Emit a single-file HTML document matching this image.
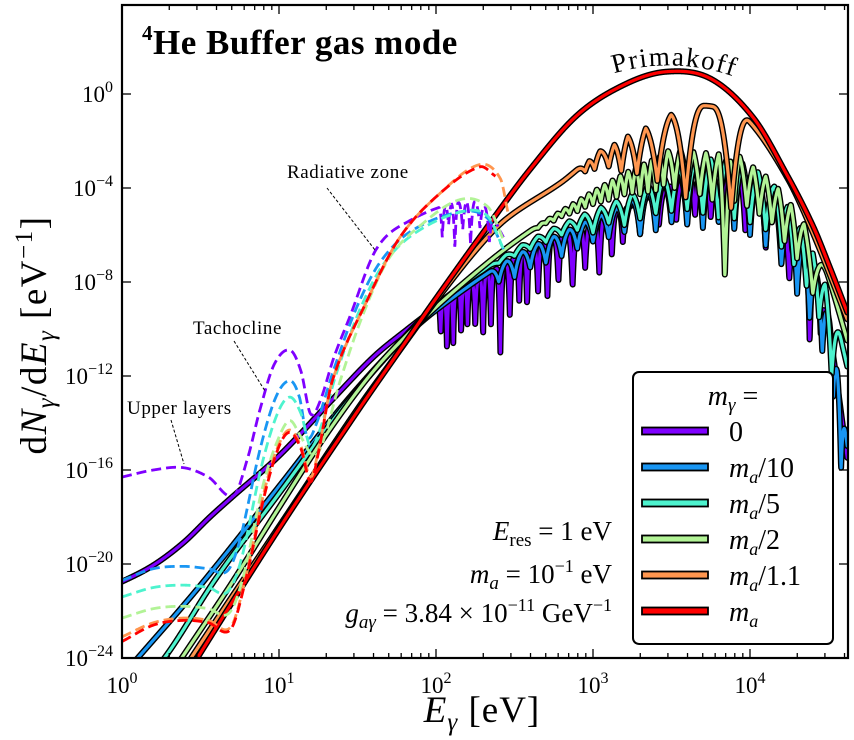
<!DOCTYPE html>
<html><head><meta charset="utf-8">
<style>
html,body{margin:0;padding:0;background:#fff;}
svg{display:block;font-family:"Liberation Serif","DejaVu Serif",serif;}
</style></head>
<body>
<svg id="chart" width="854" height="740" viewBox="0 0 854 740" xmlns="http://www.w3.org/2000/svg">
<defs><clipPath id="plotclip"><rect x="122" y="5" width="726" height="653"/></clipPath></defs>
<rect x="0" y="0" width="854" height="740" fill="#fff"/>
<g id="solid" clip-path="url(#plotclip)"></g>
<g id="dashed2" clip-path="url(#plotclip)"></g>
<g id="axes"></g>

<text x="142" y="54" font-size="35" font-weight="bold" letter-spacing="0.5"><tspan font-size="21" dy="-14">4</tspan><tspan dy="14">He Buffer gas mode</tspan></text>

<path id="primpath" d="M 590 82 Q 672 47 758 86" fill="none"/>
<text font-size="27" letter-spacing="1.5"><textPath href="#primpath" startOffset="50%" text-anchor="middle">Primakoff</textPath></text>

<text x="287" y="178" font-size="19" letter-spacing="0.6">Radiative zone</text>
<line x1="327" y1="188" x2="375" y2="250" stroke="#000" stroke-width="1" stroke-dasharray="3 2"/>
<text x="193" y="334" font-size="19" letter-spacing="0.6">Tachocline</text>
<line x1="234" y1="341" x2="265" y2="391" stroke="#000" stroke-width="1" stroke-dasharray="3 2"/>
<text x="127" y="414" font-size="19" letter-spacing="0.6">Upper layers</text>
<line x1="171" y1="420" x2="184" y2="464" stroke="#000" stroke-width="1" stroke-dasharray="3 2"/>

<g font-size="27" text-anchor="end">
<text x="612" y="540"><tspan font-style="italic">E</tspan><tspan font-size="19" dy="6">res</tspan><tspan dy="-6"> = 1 eV</tspan></text>
<text x="612" y="583"><tspan font-style="italic">m</tspan><tspan font-size="19" dy="6" font-style="italic">a</tspan><tspan dy="-6"> = 10</tspan><tspan font-size="18" dy="-11">−1</tspan><tspan dy="11"> eV</tspan></text>
<text x="612" y="622"><tspan font-style="italic">g</tspan><tspan font-size="19" dy="6" font-style="italic">aγ</tspan><tspan dy="-6"> = 3.84 × 10</tspan><tspan font-size="18" dy="-11">−11</tspan><tspan dy="11"> GeV</tspan><tspan font-size="18" dy="-11">−1</tspan></text>
</g>

<text transform="translate(46,335) rotate(-90)" text-anchor="middle" font-size="37" letter-spacing="1.5">d<tspan font-style="italic">N</tspan><tspan font-size="25" dy="8" font-style="italic">γ</tspan><tspan dy="-8">/d</tspan><tspan font-style="italic">E</tspan><tspan font-size="25" dy="8" font-style="italic">γ</tspan><tspan dy="-8"> [eV</tspan><tspan font-size="25" dy="-14">−1</tspan><tspan dy="14">]</tspan></text>
<text x="482" y="722" text-anchor="middle" font-size="37" letter-spacing="1"><tspan font-style="italic">E</tspan><tspan font-size="25" dy="8" font-style="italic">γ</tspan><tspan dy="-8"> [eV]</tspan></text>

<g id="legend">
<rect x="633" y="372" width="200" height="272" rx="6" fill="#fff" stroke="#000" stroke-width="2"/>
<text x="733" y="405" text-anchor="middle" font-size="28"><tspan font-style="italic">m</tspan><tspan font-size="19" dy="6" font-style="italic">γ</tspan><tspan dy="-6"> =</tspan></text>
</g>
</svg>
<script>
// ---- data (log10 E [eV], log10 dN/dE) ----
const seriesNames = ["0", "m_a/10", "m_a/5", "m_a/2", "m_a/1.1", "m_a"];
const seriesColors = ["#7f00ff", "#1996f3", "#4df3ce", "#b2f396", "#ff964f", "#ff0000"];
const purpleEnv = [[-0.1,-21.0],[0,-20.75],[0.2,-20.05],[0.39,-19.1],[0.56,-18.0],[0.71,-17.1],[1.0,-15.4],[1.34,-13.0],[1.6,-11.2],[1.8,-10.1],[2.0,-9.1],[2.5,-7.0],[2.9,-5.8],[3.2,-4.9],[3.5,-3.9],[3.7,-3.3],[3.9,-3.3],[4.05,-3.8],[4.2,-4.9],[4.35,-6.8],[4.5,-10],[4.62,-15.5]];
const purpleDips = [[2.03,-10.2],[2.07,-10.9],[2.11,-10.6],[2.16,-10.2],[2.2,-9.8],[2.25,-9.9],[2.3,-10.3],[2.35,-9.8],[2.41,-11.0],[2.47,-9.4],[2.53,-8.8],[2.58,-9.0],[2.65,-8.4],[2.71,-8.6],[2.78,-8.0],[2.87,-8.2],[2.95,-7.4],[3.04,-7.6],[3.12,-6.9],[3.19,-6.3],[3.3,-6.0],[3.42,-5.6],[3.53,-5.4],[3.65,-5.2],[3.75,-5.3],[3.85,-5.6],[3.97,-5.8],[4.1,-6.6],[4.25,-7.9],[4.38,-10.6],[4.45,-10.2]];
const blueEnv = [[-0.1,-25.5],[0.1,-24],[0.5,-20.9],[1.0,-16.7],[1.4,-13.3],[1.75,-10.7],[2.0,-9.2],[2.5,-6.9],[2.9,-5.6],[3.2,-4.7],[3.5,-3.6],[3.7,-3.0],[3.9,-3.0],[4.05,-3.5],[4.2,-4.6],[4.35,-6.5],[4.5,-9.5],[4.62,-15]];
const blueDips = [[2.4,-8.0],[2.5,-7.8],[2.6,-7.4],[2.7,-7.2],[2.8,-6.9],[2.9,-6.6],[3.0,-6.3],[3.1,-6.1],[3.2,-5.9],[3.3,-6.0],[3.4,-5.8],[3.5,-5.5],[3.6,-5.6],[3.7,-5.7],[3.8,-5.5],[3.9,-5.8],[4.0,-6.0],[4.1,-6.5],[4.2,-7.3],[4.3,-8.5],[4.38,-9.6],[4.46,-11],[4.53,-13],[4.58,-16]];
const tealEnv = [[0.0,-26],[0.27,-24],[0.6,-20.6],[1.0,-17.0],[1.4,-13.4],[1.75,-10.7],[2.0,-9.0],[2.5,-6.6],[2.9,-5.2],[3.2,-4.3],[3.5,-3.2],[3.7,-2.6],[3.9,-2.6],[4.05,-3.1],[4.2,-4.2],[4.35,-5.9],[4.5,-8.3],[4.62,-11.6]];
const tealDips = [[2.3,-7.5],[2.4,-7.2],[2.5,-6.9],[2.6,-6.6],[2.7,-6.3],[2.8,-6.0],[2.9,-5.8],[3.0,-5.9],[3.1,-5.5],[3.2,-5.6],[3.3,-5.3],[3.4,-5.1],[3.5,-5.0],[3.6,-4.9],[3.7,-5.1],[3.8,-5.3],[3.9,-5.3],[4.0,-5.5],[4.1,-5.8],[4.2,-6.5],[4.28,-7.3],[4.36,-8.2],[4.44,-9.5],[4.52,-12]];
const greenEnv = [[0.1,-26.8],[0.38,-24],[0.7,-20.8],[1.0,-17.6],[1.3,-14.5],[1.6,-11.8],[1.9,-9.7],[2.2,-7.9],[2.5,-6.3],[2.92,-4.4],[3.2,-3.2],[3.49,-2.2],[3.7,-2.1],[3.9,-2.3],[4.04,-2.8],[4.19,-3.7],[4.3,-4.7],[4.4,-6.0],[4.5,-7.8],[4.62,-10.5]];
const greenDips = [[2.3,-7.0],[2.35,-6.9],[2.4,-6.5],[2.45,-6.4],[2.5,-6.2],[2.55,-6.0],[2.6,-5.8],[2.65,-5.7],[2.7,-5.5],[2.75,-5.4],[2.8,-5.2],[2.85,-5.1],[2.9,-5.0],[2.95,-4.8],[3.0,-4.7],[3.05,-4.6],[3.1,-4.5],[3.15,-4.4],[3.2,-4.3],[3.25,-4.2],[3.3,-4.3],[3.35,-4.2],[3.4,-4.1],[3.45,-3.9],[3.52,-4.0],[3.6,-4.1],[3.68,-4.3],[3.76,-4.5],[3.84,-7.8],[3.9,-4.6],[3.98,-4.8],[4.06,-5.1],[4.14,-5.5],[4.22,-6.3],[4.3,-7.0],[4.4,-8.5]];
const orangeEnv = [[0.2,-26.5],[0.44,-24],[1.0,-18.4],[1.5,-13.4],[1.77,-10.9],[2.0,-8.8],[2.26,-6.6],[2.45,-5.3],[2.79,-3.8],[2.92,-3.1],[3.06,-2.3],[3.24,-1.5],[3.34,-1.2],[3.49,-0.8],[3.7,-0.5],[3.85,-0.7],[4.0,-1.2],[4.24,-3.6],[4.4,-5.9],[4.62,-9.6]];
const orangeDips = [[2.95,-3.3],[3.01,-3.2],[3.1,-3.1],[3.18,-3.3],[3.28,-3.4],[3.41,-3.7],[3.59,-4.4],[3.88,-4.9]];
const redEnv = [[0.3,-26],[0.48,-24],[1.0,-18.5],[1.5,-13.5],[1.77,-10.9],[2.0,-8.7],[2.3,-5.9],[2.6,-3.2],[2.9,-0.9],[3.2,0.4],[3.47,0.95],[3.75,0.65],[4.02,-1.0],[4.24,-3.5],[4.4,-5.6],[4.51,-7.4],[4.62,-9.3]];
const redDips = [];
const purpleDash = [[0,-16.3],[0.2,-16.0],[0.39,-15.9],[0.55,-16.3],[0.71,-17.1],[0.8,-15.5],[0.88,-13.4],[0.97,-11.5],[1.07,-10.9],[1.14,-11.8],[1.2,-13.6],[1.26,-13.1],[1.35,-11.2],[1.45,-9.5],[1.62,-6.6],[1.83,-5.4],[2.15,-4.6],[2.32,-4.8],[2.43,-6.1]];
const purpleDashDips = [[2.04,-6.1],[2.08,-5.6],[2.12,-6.6],[2.17,-5.8],[2.22,-6.4],[2.28,-5.7],[2.34,-6.3]];
const blueDash = [[0,-20.7],[0.2,-20.2],[0.39,-20.1],[0.55,-20.2],[0.67,-20.3],[0.75,-19.0],[0.88,-15.1],[0.98,-12.9],[1.07,-12.2],[1.13,-12.9],[1.18,-14.6],[1.24,-14.0],[1.35,-11.7],[1.5,-9.0],[1.65,-7.1],[1.85,-5.8],[2.17,-5.0],[2.33,-5.3],[2.43,-6.6]];
const tealDash = [[0,-21.4],[0.2,-21.0],[0.39,-20.9],[0.55,-21.0],[0.67,-21.2],[0.76,-19.8],[0.89,-15.8],[0.99,-13.6],[1.07,-12.9],[1.14,-13.6],[1.2,-15.0],[1.26,-14.3],[1.37,-11.8],[1.52,-9.1],[1.67,-7.2],[1.87,-5.9],[2.17,-5.0],[2.33,-5.2],[2.43,-6.6]];
const greenDash = [[0,-22.3],[0.2,-21.9],[0.39,-21.8],[0.55,-21.9],[0.68,-22.1],[0.77,-20.6],[0.9,-16.6],[1.0,-14.6],[1.07,-13.9],[1.14,-14.6],[1.22,-15.4],[1.28,-14.8],[1.39,-12.2],[1.54,-9.3],[1.7,-7.0],[1.9,-5.6],[2.15,-4.5],[2.33,-4.8],[2.43,-6.2]];
const orangeDash = [[0,-23.1],[0.2,-22.5],[0.39,-22.3],[0.55,-22.4],[0.69,-22.7],[0.78,-20.8],[0.91,-16.8],[1.0,-14.9],[1.07,-14.3],[1.14,-15.0],[1.2,-16.3],[1.25,-15.2],[1.34,-12.2],[1.56,-8.8],[1.77,-6.1],[2.03,-4.2],[2.28,-3.0],[2.41,-3.6],[2.46,-5.1]];
const redDash = [[0,-23.3],[0.2,-22.6],[0.39,-22.4],[0.55,-22.5],[0.69,-22.8],[0.78,-20.9],[0.91,-17.0],[1.0,-15.0],[1.07,-14.4],[1.14,-15.1],[1.2,-16.5],[1.25,-15.3],[1.34,-12.2],[1.56,-8.8],[1.77,-6.1],[2.03,-4.2],[2.28,-3.1],[2.38,-3.5]];
const xTickLabels = ["0", "1", "2", "3", "4"];
const yTickLabels = ["0", "−4", "−8", "−12", "−16", "−20", "−24"];
const yTickValues = [0, -4, -8, -12, -16, -20, -24];

// ---- axes functions ----
const PX0 = 122, PX1 = 848, PY0 = 5, PY1 = 658;
const DEC_X = 157, DEC_Y = 23.5, Y0 = 94;
function X(l) { return PX0 + DEC_X * l; }
function Y(l) { return Y0 - DEC_Y * l; }
const NS = "http://www.w3.org/2000/svg";
function mk(tag, attrs, parent) { const e = document.createElementNS(NS, tag); for (const k in attrs) e.setAttribute(k, attrs[k]); parent.appendChild(e); return e; }

function interp(p, x) {
  const n = p.length;
  if (x <= p[0][0]) { const s = (p[1][1]-p[0][1])/(p[1][0]-p[0][0]); return p[0][1] + s*(x-p[0][0]); }
  if (x >= p[n-1][0]) { const s = (p[n-1][1]-p[n-2][1])/(p[n-1][0]-p[n-2][0]); return p[n-1][1] + s*(x-p[n-1][0]); }
  let i = 0; while (i < n-2 && x > p[i+1][0]) i++;
  const x0=p[i][0], y0=p[i][1], x1=p[i+1][0], y1=p[i+1][1], h=x1-x0, t=(x-x0)/h;
  const m0 = i>0 ? (y1-p[i-1][1])/(x1-p[i-1][0]) : (y1-y0)/h;
  const m1 = i<n-2 ? (p[i+2][1]-y0)/(p[i+2][0]-x0) : (y1-y0)/h;
  const t2=t*t, t3=t2*t;
  return (2*t3-3*t2+1)*y0 + (t3-2*t2+t)*h*m0 + (-2*t3+3*t2)*y1 + (t3-t2)*h*m1;
}
function valueAt(env, dips, x, wf) {
  let v = interp(env, x), best = v;
  for (let j = 0; j < dips.length; j++) {
    const d = dips[j][0];
    const gp = j>0 ? d - dips[j-1][0] : 0.12, gn = j<dips.length-1 ? dips[j+1][0] - d : 0.12;
    const w = Math.min(gp, gn, 0.12) * wf;
    const u = Math.abs(x - d);
    if (u < w) {
      const depth = dips[j][1] - interp(env, d);
      const c = v + depth * Math.pow(1 - u/w, 2.5);
      if (c < best) best = c;
    }
  }
  return best;
}
function buildPath(env, dips, wf) {
  const a = Math.max(env[0][0], -0.05), b = Math.min(env[env.length-1][0], 4.64);
  let s = "";
  for (let x = a; x <= b + 1e-9; x += 0.0015) {
    let yv = Y(valueAt(env, dips, x, wf));
    if (yv > 700) yv = 700;
    s += (s ? "L" : "M") + X(x).toFixed(2) + " " + yv.toFixed(2);
  }
  return s;
}

// ---- solid series ----
const solidG = document.getElementById("solid");
const envs = [purpleEnv, blueEnv, tealEnv, greenEnv, orangeEnv, redEnv];
const dipsAll = [purpleDips, blueDips, tealDips, greenDips, orangeDips, redDips];
const dipWidthFrac = [0.4, 0.6, 0.8, 1.0, 1.0, 1.0];
const solidNames = ["curve-m0", "curve-ma-10", "curve-ma-5", "curve-ma-2", "curve-ma-1p1", "curve-ma"];
for (let i = 0; i < envs.length; i++) {
  const d = buildPath(envs[i], dipsAll[i], dipWidthFrac[i]);
  const g = mk("g", {}, solidG);
  
  
  const o = mk("path", {d: d, fill: "none", stroke: "#000", "stroke-width": 6, "stroke-linejoin": "round", "stroke-linecap": "round"}, g);
  
  
  const c = mk("path", {d: d, fill: "none", stroke: seriesColors[i], "stroke-width": 3.2, "stroke-linejoin": "round", "stroke-linecap": "round"}, g);
  
  
}

// ---- dashed resonant series ----
const dashG = document.getElementById("dashed2");
const dashes = [purpleDash, blueDash, tealDash, greenDash, orangeDash, redDash];
const dashDips = [purpleDashDips, [], [], [], [], []];
const dashNames = ["dashed-m0", "dashed-ma-10", "dashed-ma-5", "dashed-ma-2", "dashed-ma-1p1", "dashed-ma"];
for (let i = 0; i < dashes.length; i++) {
  const p = mk("path", {d: buildPath(dashes[i], dashDips[i], 0.6), fill: "none", stroke: seriesColors[i], "stroke-width": 2.8, "stroke-dasharray": "10 5"}, dashG);
  
  
}

// ---- axes ----
const ax = document.getElementById("axes");
const frame = mk("rect", {x: PX0, y: PY0, width: PX1-PX0, height: PY1-PY0, fill: "none", stroke: "#000", "stroke-width": 2.2}, ax);


for (let d = 0; d <= 4; d++) {
  for (let k = 1; k <= 9; k++) {
    const l = d + Math.log10(k);
    if (X(l) > PX1) continue;
    const len = k === 1 ? 9 : 5;
    const t1 = mk("line", {x1: X(l), x2: X(l), y1: PY1, y2: PY1-len, stroke: "#000", "stroke-width": 1.3}, ax);
    
    
    const t2 = mk("line", {x1: X(l), x2: X(l), y1: PY0, y2: PY0+len, stroke: "#000", "stroke-width": 1.3}, ax);
    
    
  }
}
for (let i = 0; i < xTickLabels.length; i++) {
  const t = mk("text", {x: X(i), y: 693, "text-anchor": "middle", "font-size": 23}, ax);
  
  
  t.innerHTML = '10<tspan font-size="16" dy="-10">' + xTickLabels[i] + '</tspan>';
}
for (let i = 0; i < yTickValues.length; i++) {
  const yy = Y(yTickValues[i]);
  const a1 = mk("line", {x1: PX0, x2: PX0+9, y1: yy, y2: yy, stroke: "#000", "stroke-width": 1.3}, ax);
  
  
  const a2 = mk("line", {x1: PX1, x2: PX1-9, y1: yy, y2: yy, stroke: "#000", "stroke-width": 1.3}, ax);
  
  
  const t = mk("text", {x: 113, y: yy + 8, "text-anchor": "end", "font-size": 23}, ax);
  
  
  t.innerHTML = '10<tspan font-size="16" dy="-10">' + yTickLabels[i] + '</tspan>';
}

// ---- legend entries ----
const lg = document.getElementById("legend");
const legendLabels = ['0', '<tspan font-style="italic">m</tspan><tspan font-size="18" dy="6" font-style="italic">a</tspan><tspan dy="-6">/10</tspan>',
  '<tspan font-style="italic">m</tspan><tspan font-size="18" dy="6" font-style="italic">a</tspan><tspan dy="-6">/5</tspan>',
  '<tspan font-style="italic">m</tspan><tspan font-size="18" dy="6" font-style="italic">a</tspan><tspan dy="-6">/2</tspan>',
  '<tspan font-style="italic">m</tspan><tspan font-size="18" dy="6" font-style="italic">a</tspan><tspan dy="-6">/1.1</tspan>',
  '<tspan font-style="italic">m</tspan><tspan font-size="18" dy="6" font-style="italic">a</tspan>'];
for (let i = 0; i < seriesNames.length; i++) {
  const yy = 431 + i * 36;
  const g = mk("g", {}, lg);
  
  
  mk("rect", {x: 642, y: yy - 3.5, width: 66, height: 7, fill: seriesColors[i], stroke: "#000", "stroke-width": 1.8}, g);
  const t = mk("text", {x: 729, y: yy + 10, "font-size": 28}, g);
  t.innerHTML = legendLabels[i];
}
</script>
</body></html>
